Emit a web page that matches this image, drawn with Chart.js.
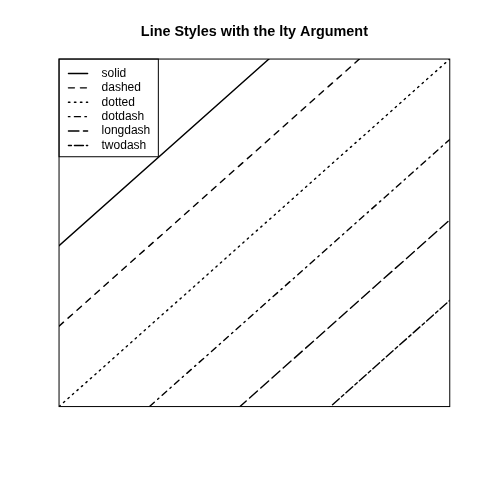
<!DOCTYPE html>
<html><head><meta charset="utf-8">
<script src="https://cdn.jsdelivr.net/npm/chart.js@4"></script>
<style>html,body{margin:0;padding:0;background:#fff}#wrap{width:480px;height:480px}</style>
</head><body><div id="wrap"><canvas id="c" width="480" height="480"></canvas></div>
<script>
// Data: six reference lines (abline style)
const lineNames = ['solid', 'dashed', 'dotted', 'dotdash', 'longdash', 'twodash'];
const intercepts = [5, 2.5, 0, -2.5, -5, -7.5];
const slopes = [1, 1, 1, 1, 1, 1];
const xLimits = [-0.4, 10.4];
const yLimits = [-0.4, 10.4];
const titleText = 'Line Styles with the lty Argument';

// R lty dash codes (in line-width units)
const DASH_SCALE = 1.5;
const LINE_W = 1.4;
const dashCodes = {
  solid: [],
  dashed: [4, 4],
  dotted: [1, 3],
  dotdash: [1, 3, 4, 3],
  longdash: [7, 3],
  twodash: [2, 2, 6, 2]
};
const dashFor = name => dashCodes[name].map(v => v * DASH_SCALE);

const datasets = lineNames.map((name, i) => ({
  label: name,
  data: xLimits.map(x => ({ x: x, y: intercepts[i] + slopes[i] * x })),
  borderColor: '#000',
  borderWidth: LINE_W,
  borderDash: dashFor(name),
  borderCapStyle: 'round',
  pointRadius: 0,
  fill: false,
  tension: 0,
  clip: 0
}));

const FONT = '"Liberation Sans", Arial, Helvetica, sans-serif';

const decorations = {
  id: 'decorations',
  afterDraw(chart) {
    const ctx = chart.ctx;
    const ca = chart.chartArea;
    ctx.save();
    // Legend box (top-left, inside plot)
    const lx = ca.left, ly = ca.top, lw = 99.3, lh = 97.7;
    ctx.fillStyle = '#fff';
    ctx.fillRect(lx, ly, lw, lh);
    ctx.strokeStyle = '#000';
    ctx.lineWidth = 1;
    ctx.setLineDash([]);
    ctx.strokeRect(lx, ly, lw, lh);
    ctx.font = '12px ' + FONT;
    ctx.textBaseline = 'middle';
    ctx.textAlign = 'left';
    lineNames.forEach((name, i) => {
      const y = ly + 14.4 * (i + 1);
      ctx.beginPath();
      ctx.lineWidth = LINE_W;
      ctx.setLineDash(dashFor(name));
      ctx.lineCap = 'round';
      ctx.moveTo(lx + 9.4, y);
      ctx.lineTo(lx + 28.6, y);
      ctx.stroke();
      ctx.setLineDash([]);
      ctx.fillStyle = '#000';
      ctx.fillText(name, lx + 42.5, y);
    });
    // Plot frame
    ctx.lineWidth = 1;
    ctx.setLineDash([]);
    ctx.strokeRect(ca.left, ca.top, ca.right - ca.left, ca.bottom - ca.top);
    // Title
    ctx.font = 'bold 14.4px ' + FONT;
    ctx.textAlign = 'center';
    ctx.textBaseline = 'alphabetic';
    ctx.fillStyle = '#000';
    ctx.fillText(titleText, (ca.left + ca.right) / 2, 36.3);
    ctx.restore();
  }
};

new Chart(document.getElementById('c'), {
  type: 'line',
  data: { datasets: datasets },
  options: {
    responsive: false,
    animation: false,
    devicePixelRatio: 1,
    layout: { padding: { left: 59.04, top: 59.04, right: 30.24, bottom: 73.44 } },
    scales: {
      x: { type: 'linear', min: xLimits[0], max: xLimits[1], display: false },
      y: { type: 'linear', min: yLimits[0], max: yLimits[1], display: false }
    },
    plugins: {
      legend: { display: false },
      tooltip: { enabled: false },
      title: { display: false }
    }
  },
  plugins: [decorations]
});
</script>
</body></html>
